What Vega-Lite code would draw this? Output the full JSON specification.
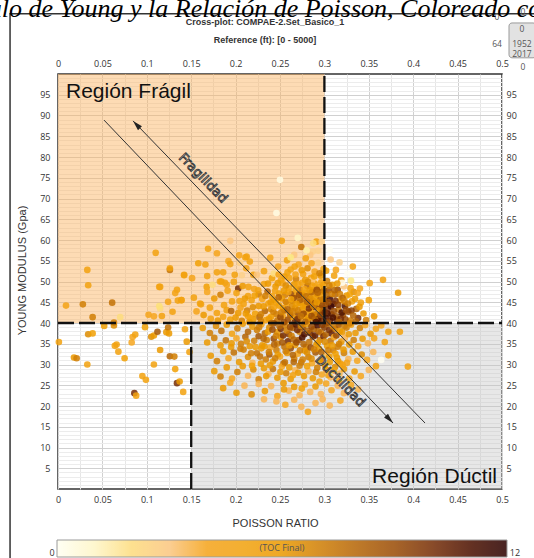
{
  "$schema": "https://vega.github.io/schema/vega-lite/v6.json",
  "width": 444,
  "height": 415,
  "autosize": {"type": "none"},
  "padding": {"left": 58, "top": 74, "right": 32, "bottom": 69},
  "background": "#ffffff",
  "title": {
    "text": "ulo de Young y la Relación de Poisson, Coloreado co",
    "subtitle": ["Cross-plot: COMPAE-2.Set_Basico_1", "Reference (ft): [0 - 5000]"],
    "anchor": "middle",
    "frame": "group",
    "dx": -15,
    "offset": -37,
    "font": "Liberation Serif",
    "fontSize": 26,
    "fontStyle": "italic",
    "fontWeight": "normal",
    "color": "#000000",
    "subtitleFont": "Liberation Sans",
    "subtitleFontSize": 9,
    "subtitleFontWeight": "bold",
    "subtitleColor": "#333333",
    "subtitlePadding": -3.5,
    "subtitleLineHeight": 18
  },
  "config": {
    "view": {"stroke": "#333333", "strokeWidth": 1.5},
    "axis": {
      "labelFont": "Open Sans",
      "labelFontSize": 9,
      "labelColor": "#333333",
      "ticks": false,
      "domain": false,
      "labelFlush": false,
      "labelOverlap": false,
      "titleFont": "Liberation Sans",
      "titleFontSize": 11,
      "titleFontWeight": "normal",
      "titleColor": "#333333",
      "gridColor": "#d0d0d0",
      "gridWidth": 1
    }
  },
  "resolve": {"axis": {"x": "independent", "y": "independent"}},
  "layer": [
    {
      "data": {"values": [{}]},
      "mark": {"type": "rect", "fill": "#fbb462", "opacity": 0.48},
      "encoding": {
        "x": {"datum": 0, "type": "quantitative", "axis": {"orient": "bottom", "values": [0.025, 0.075, 0.125, 0.175, 0.225, 0.275, 0.325, 0.375, 0.425, 0.475], "grid": true, "labels": false, "title": null, "gridColor": "#e6e6e6"}},
        "x2": {"datum": 0.3},
        "y": {"datum": 40, "type": "quantitative", "axis": {"orient": "left", "values": [1,2,3,4,6,7,8,9,11,12,13,14,16,17,18,19,21,22,23,24,26,27,28,29,31,32,33,34,36,37,38,39,41,42,43,44,46,47,48,49,51,52,53,54,56,57,58,59,61,62,63,64,66,67,68,69,71,72,73,74,76,77,78,79,81,82,83,84,86,87,88,89,91,92,93,94,96,97,98,99], "grid": true, "labels": false, "title": null, "gridColor": "#ececec"}},
        "y2": {"datum": 100}
      }
    },
    {
      "data": {"values": [{}]},
      "mark": {"type": "rect", "fill": "#c4c4c4", "opacity": 0.4},
      "encoding": {
        "x": {"datum": 0.15, "type": "quantitative", "axis": {"orient": "top", "values": [0, 0.05, 0.1, 0.15, 0.2, 0.25, 0.3, 0.35, 0.4, 0.45, 0.5], "format": ".2~f", "grid": false, "title": null, "labelPadding": 6}},
        "x2": {"datum": 0.5},
        "y": {"datum": 0, "type": "quantitative", "axis": {"orient": "right", "values": [5,10,15,20,25,30,35,40,45,50,55,60,65,70,75,80,85,90,95], "grid": false, "title": null, "labelPadding": 4}},
        "y2": {"datum": 40}
      }
    },
    {
      "data": {"values": [
        {"p":0.110,"e":56.9,"t":5},{"p":0.033,"e":52.8,"t":5},{"p":0.126,"e":52.8,"t":7.5},{"p":0.034,"e":49.1,"t":5},{"p":0.114,"e":48.7,"t":4.5},{"p":0.009,"e":44.2,"t":4.5},{"p":0.028,"e":44.5,"t":7},{"p":0.061,"e":44.9,"t":7.5},{"p":0.039,"e":41.4,"t":7},{"p":0.070,"e":41.4,"t":2},{"p":0.102,"e":42.0,"t":4},{"p":0.108,"e":41.6,"t":3.5},{"p":0.117,"e":41.7,"t":5},{"p":0.124,"e":45.1,"t":4.5},{"p":0.135,"e":45.4,"t":5},{"p":0.139,"e":45.5,"t":5},{"p":0.129,"e":42.7,"t":5},{"p":0.134,"e":48.0,"t":5},{"p":0.142,"e":51.6,"t":5},{"p":0.115,"e":43.5,"t":2},{"p":0.114,"e":44.1,"t":1.8},
        {"p":0.001,"e":35.4,"t":5},{"p":0.034,"e":37.3,"t":6.5},{"p":0.039,"e":37.5,"t":5.5},{"p":0.052,"e":39.3,"t":5.5},{"p":0.063,"e":39.4,"t":6.5},{"p":0.063,"e":40.1,"t":7},{"p":0.084,"e":36.6,"t":4},{"p":0.087,"e":37.2,"t":5},{"p":0.083,"e":35.3,"t":3.5},{"p":0.098,"e":39.0,"t":5.5},{"p":0.105,"e":36.7,"t":6.5},{"p":0.108,"e":37.0,"t":6},{"p":0.112,"e":37.9,"t":8.5},{"p":0.122,"e":37.8,"t":6},{"p":0.124,"e":38.9,"t":7.5},{"p":0.125,"e":37.5,"t":6},{"p":0.064,"e":34.5,"t":5},{"p":0.066,"e":34.8,"t":5},{"p":0.068,"e":33.1,"t":5},{"p":0.075,"e":31.5,"t":5.5},{"p":0.018,"e":31.7,"t":6},{"p":0.021,"e":31.5,"t":7},{"p":0.033,"e":30.0,"t":5},{"p":0.115,"e":33.5,"t":6},{"p":0.126,"e":32.0,"t":8},{"p":0.131,"e":31.9,"t":7},{"p":0.108,"e":30.0,"t":5},{"p":0.132,"e":28.9,"t":5.5},{"p":0.095,"e":27.2,"t":5},{"p":0.099,"e":26.3,"t":5},{"p":0.134,"e":25.5,"t":10},{"p":0.137,"e":25.9,"t":6},{"p":0.086,"e":23.1,"t":10},{"p":0.088,"e":22.5,"t":5},{"p":0.141,"e":23.4,"t":5},{"p":0.145,"e":35.5,"t":6},{"p":0.148,"e":33.0,"t":5},{"p":0.143,"e":38.5,"t":5},
        {"p":0.169,"e":57.9,"t":5},{"p":0.194,"e":59.8,"t":3},{"p":0.252,"e":59.8,"t":5},{"p":0.291,"e":59.6,"t":5},{"p":0.274,"e":58.3,"t":7.5},{"p":0.287,"e":57.2,"t":2.5},{"p":0.284,"e":56.4,"t":3},{"p":0.293,"e":57.4,"t":2.5},{"p":0.179,"e":56.8,"t":4},{"p":0.239,"e":55.7,"t":4.5},{"p":0.211,"e":55.8,"t":5},{"p":0.216,"e":54.8,"t":5},{"p":0.205,"e":54.5,"t":2.5},{"p":0.192,"e":54.9,"t":3.5},{"p":0.194,"e":54.2,"t":5},{"p":0.166,"e":54.1,"t":5},{"p":0.158,"e":54.4,"t":5.5},{"p":0.126,"e":53.2,"t":5},{"p":0.142,"e":51.5,"t":5},{"p":0.151,"e":50.8,"t":4},{"p":0.168,"e":51.3,"t":5},{"p":0.179,"e":52.2,"t":5},{"p":0.186,"e":52.2,"t":5},{"p":0.184,"e":50.0,"t":5.5},{"p":0.188,"e":49.7,"t":5},{"p":0.199,"e":51.6,"t":5},{"p":0.203,"e":48.3,"t":10},{"p":0.212,"e":53.2,"t":4.5},{"p":0.220,"e":51.6,"t":5},{"p":0.224,"e":51.6,"t":3},{"p":0.2875,"e":59.2,"t":2},{"p":0.297,"e":59.6,"t":2.5},{"p":0.204,"e":56.3,"t":4},{"p":0.2125,"e":56.0,"t":5},{"p":0.115,"e":48.7,"t":5},{"p":0.132,"e":47.2,"t":4.5},{"p":0.139,"e":45.5,"t":5},{"p":0.160,"e":44.7,"t":5},{"p":0.1675,"e":48.7,"t":5.5},{"p":0.1824,"e":50.0,"t":5},{"p":0.190,"e":49.2,"t":4.5},
        {"p":0.232,"e":52.5,"t":5},{"p":0.241,"e":50.8,"t":5.5},{"p":0.248,"e":53.6,"t":4},{"p":0.255,"e":51.2,"t":6},{"p":0.262,"e":52.9,"t":5},{"p":0.268,"e":50.6,"t":7},{"p":0.271,"e":54.1,"t":3.5},{"p":0.276,"e":51.8,"t":5},{"p":0.281,"e":53.2,"t":6.5},{"p":0.285,"e":50.9,"t":5},{"p":0.289,"e":52.4,"t":4},{"p":0.293,"e":54.5,"t":2.5},{"p":0.296,"e":51.4,"t":6},{"p":0.299,"e":53.0,"t":5},{"p":0.258,"e":55.1,"t":5},{"p":0.266,"e":56.4,"t":3},{"p":0.279,"e":55.6,"t":5},
        {"p":0.201,"e":47.2,"t":5},{"p":0.208,"e":48.9,"t":6},{"p":0.214,"e":46.5,"t":5},{"p":0.221,"e":48.2,"t":4.5},{"p":0.226,"e":46.9,"t":7},{"p":0.232,"e":49.4,"t":5},{"p":0.236,"e":47.6,"t":8},{"p":0.241,"e":46.4,"t":5},{"p":0.245,"e":48.8,"t":6},{"p":0.249,"e":47.1,"t":5.5},{"p":0.253,"e":49.6,"t":4},{"p":0.256,"e":46.8,"t":7},{"p":0.260,"e":48.4,"t":5},{"p":0.263,"e":47.0,"t":9},{"p":0.266,"e":49.3,"t":6},{"p":0.269,"e":46.6,"t":5},{"p":0.272,"e":48.1,"t":7.5},{"p":0.275,"e":49.7,"t":5},{"p":0.278,"e":47.3,"t":6},{"p":0.281,"e":48.9,"t":8},{"p":0.284,"e":46.5,"t":5},{"p":0.287,"e":47.9,"t":6.5},{"p":0.289,"e":49.5,"t":5},{"p":0.292,"e":46.9,"t":7},{"p":0.294,"e":48.6,"t":5.5},{"p":0.297,"e":47.4,"t":9},{"p":0.299,"e":49.2,"t":6},{"p":0.251,"e":50.3,"t":5},{"p":0.286,"e":50.2,"t":3},
        {"p":0.190,"e":43.1,"t":5},{"p":0.196,"e":45.2,"t":5},{"p":0.203,"e":42.4,"t":6},{"p":0.209,"e":44.6,"t":5},{"p":0.213,"e":43.0,"t":7},{"p":0.218,"e":45.5,"t":5},{"p":0.222,"e":42.2,"t":5.5},{"p":0.226,"e":44.1,"t":6},{"p":0.230,"e":45.8,"t":4.5},{"p":0.233,"e":42.9,"t":8},{"p":0.237,"e":44.7,"t":5},{"p":0.240,"e":43.3,"t":6.5},{"p":0.243,"e":45.6,"t":5},{"p":0.246,"e":42.1,"t":7},{"p":0.249,"e":44.2,"t":5.5},{"p":0.252,"e":45.9,"t":6},{"p":0.255,"e":43.0,"t":8.5},{"p":0.258,"e":44.8,"t":5},{"p":0.261,"e":42.5,"t":6},{"p":0.264,"e":45.3,"t":7},{"p":0.267,"e":43.6,"t":5},{"p":0.270,"e":42.0,"t":9},{"p":0.272,"e":44.9,"t":6},{"p":0.275,"e":43.2,"t":5},{"p":0.277,"e":45.7,"t":7.5},{"p":0.280,"e":42.6,"t":6},{"p":0.283,"e":44.4,"t":8},{"p":0.285,"e":42.9,"t":5.5},{"p":0.287,"e":45.4,"t":6.5},{"p":0.290,"e":43.8,"t":9.5},{"p":0.292,"e":42.3,"t":7},{"p":0.294,"e":44.9,"t":5},{"p":0.296,"e":43.5,"t":10},{"p":0.298,"e":41.9,"t":8},{"p":0.300,"e":45.6,"t":6},
        {"p":0.172,"e":41.0,"t":5},{"p":0.180,"e":40.6,"t":6},{"p":0.186,"e":41.5,"t":5},{"p":0.194,"e":40.8,"t":5.5},{"p":0.200,"e":41.3,"t":6},{"p":0.207,"e":40.5,"t":7},{"p":0.214,"e":41.6,"t":5},{"p":0.220,"e":40.9,"t":6},{"p":0.227,"e":41.4,"t":8},{"p":0.234,"e":40.7,"t":5},{"p":0.240,"e":41.5,"t":6},{"p":0.247,"e":40.6,"t":7.5},{"p":0.253,"e":41.7,"t":5},{"p":0.259,"e":40.8,"t":9},{"p":0.265,"e":41.3,"t":6},{"p":0.271,"e":40.6,"t":7},{"p":0.277,"e":41.5,"t":5.5},{"p":0.282,"e":40.7,"t":8},{"p":0.288,"e":41.3,"t":6},{"p":0.293,"e":40.5,"t":10},{"p":0.297,"e":41.6,"t":7},
        {"p":0.153,"e":46.1,"t":5},{"p":0.156,"e":42.8,"t":4},{"p":0.161,"e":44.5,"t":5},{"p":0.164,"e":41.9,"t":6},{"p":0.168,"e":47.5,"t":3.5},{"p":0.171,"e":43.7,"t":5},{"p":0.176,"e":45.9,"t":6},{"p":0.179,"e":42.4,"t":5},{"p":0.183,"e":46.8,"t":7},{"p":0.187,"e":44.3,"t":5},{"p":0.191,"e":47.8,"t":4.5},{"p":0.195,"e":42.9,"t":8},{"p":0.198,"e":49.9,"t":5},
        {"p":0.174,"e":49.2,"t":2},{"p":0.207,"e":51.5,"t":2.5},{"p":0.243,"e":51.9,"t":2},{"p":0.262,"e":55.8,"t":1.5},{"p":0.280,"e":57.5,"t":1.2},{"p":0.270,"e":60.5,"t":1},{"p":0.246,"e":66.5,"t":0.8},{"p":0.250,"e":74.5,"t":0.8},
        {"p":0.2375,"e":41.0,"t":6},{"p":0.2425,"e":42.7,"t":7},{"p":0.2455,"e":44.9,"t":5.5},{"p":0.2485,"e":46.2,"t":8},{"p":0.2505,"e":41.4,"t":9},{"p":0.2535,"e":43.6,"t":6},{"p":0.2565,"e":45.1,"t":7},{"p":0.2595,"e":47.5,"t":5},{"p":0.2615,"e":41.9,"t":8},{"p":0.2635,"e":44.0,"t":6.5},{"p":0.2655,"e":46.0,"t":9},{"p":0.2675,"e":48.0,"t":5.5},{"p":0.2695,"e":40.9,"t":10},{"p":0.2705,"e":43.1,"t":7},{"p":0.2725,"e":45.5,"t":8},{"p":0.2745,"e":47.0,"t":6},{"p":0.2765,"e":42.2,"t":9},{"p":0.2785,"e":44.3,"t":5},{"p":0.2795,"e":46.4,"t":7.5},{"p":0.2815,"e":41.2,"t":6},{"p":0.2825,"e":43.5,"t":10},{"p":0.2845,"e":45.8,"t":6.5},{"p":0.2855,"e":47.4,"t":8},{"p":0.2865,"e":49.0,"t":5},{"p":0.2885,"e":42.0,"t":7},{"p":0.2895,"e":44.8,"t":8.5},{"p":0.2905,"e":46.2,"t":6},{"p":0.2915,"e":48.0,"t":9},{"p":0.2935,"e":41.0,"t":11},{"p":0.2945,"e":43.2,"t":6},{"p":0.2955,"e":45.6,"t":7.5},{"p":0.2965,"e":46.9,"t":5},{"p":0.2975,"e":44.2,"t":9},{"p":0.2985,"e":42.8,"t":8},{"p":0.2995,"e":40.5,"t":10},{"p":0.2995,"e":47.8,"t":7},{"p":0.2885,"e":51.2,"t":5.5},{"p":0.2785,"e":50.4,"t":6},{"p":0.2675,"e":51.7,"t":4.5},{"p":0.2565,"e":49.0,"t":6.5},{"p":0.2445,"e":47.7,"t":5},{"p":0.2315,"e":44.0,"t":6},{"p":0.2285,"e":42.1,"t":7},{"p":0.2255,"e":47.9,"t":5},{"p":0.2195,"e":43.8,"t":6.5},{"p":0.2165,"e":41.2,"t":5},{"p":0.2105,"e":45.9,"t":6},{"p":0.2055,"e":43.7,"t":4.5},{"p":0.2665,"e":53.6,"t":5},{"p":0.2745,"e":52.7,"t":6},{"p":0.2945,"e":52.0,"t":7},{"p":0.2855,"e":54.4,"t":4},{"p":0.2605,"e":50.8,"t":5},{"p":0.2475,"e":49.6,"t":6},
        {"p":0.2395,"e":45.0,"t":6},{"p":0.2435,"e":43.9,"t":5},{"p":0.2515,"e":42.6,"t":7},{"p":0.2545,"e":47.8,"t":6},{"p":0.2585,"e":43.3,"t":8},{"p":0.2625,"e":45.7,"t":5.5},{"p":0.2645,"e":42.8,"t":7},{"p":0.2685,"e":44.6,"t":6},{"p":0.2715,"e":46.8,"t":9},{"p":0.2735,"e":41.6,"t":7.5},{"p":0.2755,"e":44.0,"t":6},{"p":0.2775,"e":48.2,"t":5},{"p":0.2805,"e":45.1,"t":8},{"p":0.2835,"e":47.9,"t":6},{"p":0.2855,"e":41.7,"t":9},{"p":0.2875,"e":44.1,"t":7},{"p":0.2895,"e":40.9,"t":8},{"p":0.2915,"e":45.0,"t":6},{"p":0.2925,"e":47.3,"t":8},{"p":0.2955,"e":42.0,"t":9},{"p":0.2985,"e":45.7,"t":7},{"p":0.2965,"e":49.8,"t":5},{"p":0.2815,"e":49.9,"t":6.5},{"p":0.2705,"e":49.3,"t":5},{"p":0.2585,"e":52.2,"t":5.5},{"p":0.2485,"e":51.7,"t":4.5},{"p":0.2365,"e":49.5,"t":6},{"p":0.2335,"e":46.5,"t":7},{"p":0.2215,"e":46.6,"t":5.5},{"p":0.2145,"e":48.7,"t":5},{"p":0.2115,"e":42.3,"t":6},{"p":0.2045,"e":45.3,"t":5},
        {"p":0.302,"e":41.2,"t":11},{"p":0.304,"e":43.5,"t":10},{"p":0.306,"e":45.8,"t":11.5},{"p":0.305,"e":47.9,"t":9},{"p":0.303,"e":50.1,"t":7},{"p":0.308,"e":42.1,"t":9.5},{"p":0.310,"e":44.6,"t":10.5},{"p":0.312,"e":46.8,"t":8},{"p":0.309,"e":49.2,"t":6},{"p":0.311,"e":51.4,"t":5},{"p":0.314,"e":40.8,"t":10},{"p":0.316,"e":43.2,"t":7.5},{"p":0.318,"e":45.5,"t":5},{"p":0.315,"e":48.0,"t":9},{"p":0.319,"e":50.3,"t":4},{"p":0.321,"e":41.9,"t":8.5},{"p":0.323,"e":44.1,"t":11},{"p":0.325,"e":46.6,"t":6},{"p":0.322,"e":48.8,"t":3},{"p":0.327,"e":42.7,"t":9},{"p":0.329,"e":40.6,"t":7},{"p":0.331,"e":45.2,"t":5},{"p":0.333,"e":47.5,"t":6.5},{"p":0.336,"e":43.4,"t":8},{"p":0.338,"e":41.2,"t":10},{"p":0.341,"e":44.9,"t":5},{"p":0.344,"e":42.3,"t":6},{"p":0.347,"e":40.7,"t":7},{"p":0.313,"e":52.8,"t":4},{"p":0.317,"e":54.6,"t":2.5},{"p":0.307,"e":55.3,"t":3},{"p":0.326,"e":51.9,"t":0.3},{"p":0.320,"e":49.7,"t":0.3},{"p":0.330,"e":50.2,"t":1.5},{"p":0.306,"e":57.6,"t":0.5},{"p":0.332,"e":53.6,"t":5},{"p":0.351,"e":49.6,"t":5},{"p":0.366,"e":50.4,"t":5},{"p":0.383,"e":47.3,"t":6},{"p":0.350,"e":45.5,"t":5.5},{"p":0.356,"e":41.6,"t":6},{"p":0.340,"e":48.3,"t":3.5},{"p":0.302,"e":52.6,"t":6},
        {"p":0.3015,"e":44.5,"t":9},{"p":0.3025,"e":46.8,"t":8},{"p":0.3035,"e":42.3,"t":11},{"p":0.3065,"e":40.6,"t":10},{"p":0.3075,"e":44.0,"t":11.5},{"p":0.3085,"e":47.0,"t":7},{"p":0.3105,"e":42.9,"t":9},{"p":0.3125,"e":45.3,"t":10},{"p":0.3135,"e":41.6,"t":8.5},{"p":0.3145,"e":49.5,"t":6},{"p":0.3175,"e":47.0,"t":7},{"p":0.3195,"e":42.5,"t":11},{"p":0.3205,"e":46.0,"t":8},{"p":0.3235,"e":40.9,"t":9},{"p":0.3265,"e":44.7,"t":7},{"p":0.3285,"e":46.9,"t":5.5},{"p":0.3305,"e":43.0,"t":9.5},{"p":0.3345,"e":45.8,"t":6},{"p":0.3375,"e":47.2,"t":4},{"p":0.3355,"e":40.4,"t":8},
        {"p":0.3005,"e":42.6,"t":10},{"p":0.3045,"e":45.0,"t":9},{"p":0.3055,"e":49.0,"t":7},{"p":0.3095,"e":41.3,"t":11},{"p":0.3115,"e":47.9,"t":8},{"p":0.3155,"e":44.4,"t":9.5},{"p":0.3185,"e":41.0,"t":10},{"p":0.3225,"e":45.2,"t":7},{"p":0.3245,"e":43.1,"t":9},{"p":0.3295,"e":48.4,"t":5},{"p":0.3325,"e":41.8,"t":8},{"p":0.3395,"e":43.9,"t":6},
        {"p":0.163,"e":38.8,"t":6},{"p":0.171,"e":37.6,"t":7},{"p":0.178,"e":39.3,"t":6.5},{"p":0.184,"e":38.1,"t":7.5},{"p":0.190,"e":39.6,"t":6},{"p":0.196,"e":37.4,"t":5},{"p":0.202,"e":38.7,"t":7},{"p":0.208,"e":39.8,"t":6},{"p":0.214,"e":37.9,"t":8},{"p":0.219,"e":39.1,"t":6},{"p":0.224,"e":38.3,"t":7},{"p":0.229,"e":39.7,"t":5},{"p":0.233,"e":37.5,"t":8},{"p":0.238,"e":38.9,"t":6.5},{"p":0.243,"e":39.9,"t":9},{"p":0.247,"e":37.8,"t":6},{"p":0.251,"e":38.6,"t":10},{"p":0.256,"e":39.5,"t":7},{"p":0.260,"e":37.3,"t":9.5},{"p":0.264,"e":38.8,"t":8},{"p":0.268,"e":39.6,"t":11},{"p":0.272,"e":37.9,"t":7},{"p":0.276,"e":38.9,"t":9},{"p":0.280,"e":39.7,"t":6},{"p":0.284,"e":37.6,"t":10.5},{"p":0.288,"e":38.5,"t":8},{"p":0.292,"e":39.4,"t":11},{"p":0.296,"e":37.7,"t":7},{"p":0.300,"e":38.9,"t":9.5},{"p":0.304,"e":39.8,"t":8},{"p":0.308,"e":37.5,"t":10.5},{"p":0.312,"e":38.6,"t":7},{"p":0.316,"e":39.5,"t":8.5},{"p":0.320,"e":37.8,"t":6},{"p":0.325,"e":38.9,"t":7},{"p":0.330,"e":39.6,"t":5},{"p":0.335,"e":37.6,"t":6},{"p":0.340,"e":38.8,"t":7},{"p":0.346,"e":39.5,"t":3.5},{"p":0.352,"e":37.4,"t":6},{"p":0.358,"e":38.6,"t":4.5},{"p":0.364,"e":39.4,"t":3.5},{"p":0.372,"e":37.9,"t":5},{"p":0.385,"e":37.9,"t":5},
        {"p":0.2405,"e":40.0,"t":8},{"p":0.2545,"e":40.2,"t":9},{"p":0.2665,"e":40.1,"t":10},{"p":0.2785,"e":40.3,"t":8},{"p":0.2905,"e":40.2,"t":11},{"p":0.3035,"e":40.1,"t":9},{"p":0.3165,"e":40.2,"t":8},{"p":0.2285,"e":40.4,"t":7},{"p":0.2155,"e":40.2,"t":6},{"p":0.3285,"e":39.9,"t":7},
        {"p":0.168,"e":35.3,"t":6},{"p":0.176,"e":36.4,"t":7},{"p":0.183,"e":34.6,"t":6},{"p":0.189,"e":35.8,"t":7.5},{"p":0.195,"e":34.2,"t":6},{"p":0.201,"e":36.3,"t":3.5},{"p":0.206,"e":35.0,"t":7},{"p":0.211,"e":36.7,"t":8},{"p":0.216,"e":34.4,"t":6},{"p":0.221,"e":35.7,"t":7},{"p":0.226,"e":36.8,"t":8.5},{"p":0.230,"e":34.6,"t":6},{"p":0.235,"e":35.9,"t":7},{"p":0.239,"e":34.1,"t":3.5},{"p":0.243,"e":36.2,"t":9},{"p":0.247,"e":35.0,"t":7},{"p":0.251,"e":36.6,"t":6},{"p":0.255,"e":34.3,"t":7.5},{"p":0.259,"e":35.6,"t":10},{"p":0.263,"e":36.9,"t":7},{"p":0.267,"e":34.7,"t":6},{"p":0.271,"e":35.9,"t":8.5},{"p":0.275,"e":36.5,"t":11},{"p":0.279,"e":34.2,"t":7},{"p":0.283,"e":35.4,"t":7.5},{"p":0.287,"e":36.7,"t":9},{"p":0.291,"e":34.8,"t":6},{"p":0.295,"e":35.9,"t":7},{"p":0.299,"e":36.8,"t":10},{"p":0.303,"e":34.5,"t":6},{"p":0.307,"e":35.7,"t":7.5},{"p":0.311,"e":36.6,"t":3.5},{"p":0.315,"e":34.3,"t":7},{"p":0.319,"e":35.5,"t":6},{"p":0.323,"e":36.4,"t":3.3},{"p":0.328,"e":34.8,"t":6},{"p":0.333,"e":35.9,"t":7},{"p":0.338,"e":34.4,"t":3.5},{"p":0.343,"e":36.2,"t":6},{"p":0.349,"e":35.1,"t":3.3},{"p":0.356,"e":36.3,"t":4.5},{"p":0.368,"e":35.4,"t":5},
        {"p":0.172,"e":32.1,"t":6},{"p":0.179,"e":30.8,"t":7},{"p":0.186,"e":33.2,"t":6},{"p":0.192,"e":31.5,"t":3.5},{"p":0.198,"e":32.9,"t":7.5},{"p":0.204,"e":30.6,"t":6},{"p":0.209,"e":33.6,"t":7},{"p":0.214,"e":31.8,"t":6.5},{"p":0.219,"e":30.4,"t":3.3},{"p":0.224,"e":32.7,"t":7.5},{"p":0.229,"e":33.9,"t":6},{"p":0.234,"e":31.2,"t":7},{"p":0.238,"e":32.4,"t":8.5},{"p":0.242,"e":30.7,"t":6},{"p":0.246,"e":33.5,"t":7},{"p":0.250,"e":31.9,"t":3.5},{"p":0.254,"e":30.2,"t":7.5},{"p":0.258,"e":32.8,"t":6},{"p":0.262,"e":33.9,"t":9},{"p":0.266,"e":31.4,"t":7},{"p":0.270,"e":32.6,"t":3.5},{"p":0.274,"e":30.5,"t":7.5},{"p":0.278,"e":33.3,"t":6},{"p":0.282,"e":31.8,"t":7},{"p":0.286,"e":30.3,"t":3.5},{"p":0.290,"e":32.9,"t":8.5},{"p":0.294,"e":33.8,"t":6},{"p":0.298,"e":31.2,"t":7},{"p":0.302,"e":32.5,"t":3.3},{"p":0.306,"e":30.6,"t":6},{"p":0.310,"e":33.4,"t":7},{"p":0.314,"e":31.7,"t":6},{"p":0.318,"e":30.2,"t":3.5},{"p":0.322,"e":32.8,"t":7},{"p":0.327,"e":31.3,"t":3.3},{"p":0.332,"e":33.1,"t":6},{"p":0.337,"e":30.9,"t":3.5},{"p":0.342,"e":32.4,"t":6.5},{"p":0.348,"e":31.1,"t":3.5},{"p":0.355,"e":33.0,"t":3.3},{"p":0.364,"e":31.1,"t":0.3},{"p":0.372,"e":32.2,"t":5},{"p":0.394,"e":29.5,"t":5},
        {"p":0.176,"e":28.4,"t":6},{"p":0.183,"e":27.1,"t":7},{"p":0.190,"e":29.3,"t":6},{"p":0.196,"e":26.6,"t":3.5},{"p":0.202,"e":28.2,"t":7},{"p":0.208,"e":29.6,"t":6},{"p":0.214,"e":27.3,"t":3.3},{"p":0.220,"e":28.8,"t":6.5},{"p":0.226,"e":26.4,"t":7},{"p":0.232,"e":29.1,"t":6},{"p":0.237,"e":27.7,"t":3.3},{"p":0.242,"e":28.9,"t":7.5},{"p":0.247,"e":26.8,"t":6},{"p":0.252,"e":29.5,"t":3.5},{"p":0.257,"e":27.9,"t":7},{"p":0.262,"e":26.5,"t":6},{"p":0.267,"e":28.6,"t":3.3},{"p":0.272,"e":29.7,"t":7},{"p":0.277,"e":27.2,"t":6},{"p":0.282,"e":28.4,"t":3.3},{"p":0.287,"e":26.7,"t":6},{"p":0.292,"e":29.2,"t":7},{"p":0.297,"e":27.6,"t":3.5},{"p":0.302,"e":28.8,"t":6},{"p":0.307,"e":26.9,"t":3.3},{"p":0.312,"e":29.4,"t":6.5},{"p":0.317,"e":27.8,"t":3.3},{"p":0.322,"e":28.9,"t":6},{"p":0.328,"e":26.6,"t":3.5},{"p":0.334,"e":28.3,"t":6},{"p":0.341,"e":27.2,"t":3.5},{"p":0.350,"e":28.7,"t":3.3},{"p":0.358,"e":29.6,"t":5},
        {"p":0.186,"e":24.3,"t":6},{"p":0.194,"e":25.6,"t":3.5},{"p":0.201,"e":23.2,"t":6},{"p":0.210,"e":24.9,"t":3.3},{"p":0.218,"e":22.8,"t":6.5},{"p":0.226,"e":25.3,"t":3.3},{"p":0.233,"e":23.6,"t":6},{"p":0.240,"e":24.8,"t":3.3},{"p":0.247,"e":22.4,"t":3.5},{"p":0.254,"e":25.5,"t":6},{"p":0.260,"e":23.7,"t":3.3},{"p":0.266,"e":24.6,"t":6},{"p":0.272,"e":22.6,"t":3.3},{"p":0.278,"e":25.2,"t":3.5},{"p":0.284,"e":23.4,"t":3.3},{"p":0.290,"e":24.7,"t":6},{"p":0.296,"e":22.9,"t":3.3},{"p":0.302,"e":25.4,"t":3.5},{"p":0.308,"e":23.8,"t":3.5},{"p":0.315,"e":24.9,"t":3.3},{"p":0.322,"e":23.1,"t":3.3},{"p":0.330,"e":25.1,"t":3.5},{"p":0.338,"e":24.0,"t":3.3},
        {"p":0.246,"e":21.1,"t":3.3},{"p":0.256,"e":20.3,"t":3.5},{"p":0.266,"e":21.5,"t":3.3},{"p":0.274,"e":19.8,"t":3.3},{"p":0.2815,"e":18.6,"t":4.5},{"p":0.290,"e":20.7,"t":3.3},{"p":0.298,"e":21.6,"t":3.3},{"p":0.306,"e":20.1,"t":3.3},{"p":0.318,"e":21.3,"t":3.5},{"p":0.232,"e":21.6,"t":3.3},
        {"p":0.2265,"e":39.0,"t":7},{"p":0.2315,"e":36.2,"t":8},{"p":0.2365,"e":37.9,"t":6},{"p":0.2415,"e":38.4,"t":9},{"p":0.2455,"e":36.9,"t":7},{"p":0.2495,"e":39.2,"t":8},{"p":0.2535,"e":37.0,"t":10},{"p":0.2575,"e":38.2,"t":7},{"p":0.2615,"e":39.0,"t":9},{"p":0.2655,"e":36.0,"t":8},{"p":0.2695,"e":38.3,"t":10},{"p":0.2735,"e":39.3,"t":7},{"p":0.2775,"e":37.3,"t":11},{"p":0.2815,"e":38.1,"t":8},{"p":0.2855,"e":39.1,"t":9},{"p":0.2895,"e":37.0,"t":10.5},{"p":0.2935,"e":38.0,"t":8},{"p":0.2975,"e":39.5,"t":9.5},{"p":0.3015,"e":37.2,"t":8},{"p":0.3055,"e":38.3,"t":10},{"p":0.3095,"e":39.2,"t":7},{"p":0.3135,"e":37.0,"t":9},{"p":0.3175,"e":38.1,"t":6},{"p":0.3225,"e":39.3,"t":7},{"p":0.3275,"e":37.3,"t":6},
        {"p":0.2375,"e":33.0,"t":7},{"p":0.2435,"e":34.8,"t":8},{"p":0.2475,"e":32.4,"t":6},{"p":0.2525,"e":35.3,"t":8.5},{"p":0.2565,"e":33.2,"t":7},{"p":0.2605,"e":34.6,"t":6},{"p":0.2645,"e":32.3,"t":8},{"p":0.2685,"e":35.3,"t":9},{"p":0.2725,"e":33.4,"t":7},{"p":0.2765,"e":34.9,"t":8},{"p":0.2805,"e":32.9,"t":6.5},{"p":0.2845,"e":34.1,"t":9},{"p":0.2885,"e":33.6,"t":7},{"p":0.2925,"e":35.2,"t":6},{"p":0.2965,"e":33.0,"t":8},{"p":0.3005,"e":35.5,"t":6.5},{"p":0.3045,"e":33.5,"t":7},{"p":0.3085,"e":34.6,"t":6},{"p":0.3125,"e":32.6,"t":5.5},{"p":0.3165,"e":34.9,"t":7},{"p":0.3215,"e":33.6,"t":6},{"p":0.2125,"e":35.6,"t":6.5},{"p":0.2175,"e":32.7,"t":7},{"p":0.2225,"e":34.2,"t":6},{"p":0.2275,"e":31.9,"t":7.5},{"p":0.2325,"e":34.4,"t":6},{"p":0.2055,"e":33.8,"t":7},{"p":0.1955,"e":35.1,"t":6},
        {"p":0.2385,"e":29.8,"t":6},{"p":0.2445,"e":31.5,"t":7},{"p":0.2505,"e":28.2,"t":6},{"p":0.2555,"e":30.5,"t":7.5},{"p":0.2605,"e":29.3,"t":6},{"p":0.2655,"e":30.6,"t":8},{"p":0.2705,"e":28.0,"t":6},{"p":0.2755,"e":31.2,"t":7},{"p":0.2805,"e":29.6,"t":5.5},{"p":0.2855,"e":31.4,"t":6.5},{"p":0.2905,"e":28.2,"t":7},{"p":0.2955,"e":30.4,"t":6},{"p":0.3005,"e":29.8,"t":5.5},{"p":0.3055,"e":31.9,"t":6},{"p":0.3105,"e":28.6,"t":5},{"p":0.3155,"e":30.8,"t":6},{"p":0.3205,"e":29.9,"t":5},{"p":0.3255,"e":30.4,"t":4.5},{"p":0.2285,"e":30.2,"t":6},{"p":0.2185,"e":29.7,"t":5.5},{"p":0.2345,"e":27.2,"t":6},{"p":0.2645,"e":27.4,"t":5},{"p":0.2945,"e":25.9,"t":5},{"p":0.2745,"e":24.2,"t":5.5},{"p":0.2545,"e":24.0,"t":6},{"p":0.3045,"e":27.4,"t":5},{"p":0.3165,"e":26.1,"t":4.5}
      ]},
      "mark": {"type": "circle", "size": 44, "opacity": 0.86},
      "encoding": {
        "x": {"field": "p", "type": "quantitative", "scale": {"domain": [0, 0.5], "nice": false, "zero": false}, "axis": {"orient": "bottom", "values": [0, 0.05, 0.1, 0.15, 0.2, 0.25, 0.3, 0.35, 0.4, 0.45, 0.5], "format": ".2~f", "grid": true, "title": "POISSON RATIO", "labelPadding": 6, "titlePadding": 13, "titleX": 217}},
        "y": {"field": "e", "type": "quantitative", "scale": {"domain": [0, 100], "nice": false, "zero": false}, "axis": {"orient": "left", "values": [5,10,15,20,25,30,35,40,45,50,55,60,65,70,75,80,85,90,95], "grid": true, "title": "YOUNG MODULUS (Gpa)", "labelPadding": 8, "titlePadding": 12, "titleY": 196}},
        "color": {
          "field": "t", "type": "quantitative",
          "scale": {"domain": [0, 0.7, 1.6, 2.6, 3.2, 3.4, 5.8, 7.5, 9.5, 11, 12], "range": ["#ffffff", "#fffdf0", "#fbe673", "#fbcf8c", "#fbc27a", "#f6a621", "#f0a000", "#c27206", "#8c4004", "#4d1100", "#2b0000"]},
          "legend": {
            "orient": "none", "legendX": -1, "legendY": 470, "direction": "horizontal",
            "gradientLength": 450, "gradientThickness": 17, "gradientStrokeColor": "#8a8a8a", "gradientStrokeWidth": 1,
            "title": "(TOC Final)", "titleFont": "Open Sans", "titleFontSize": 9, "titleFontWeight": "normal", "titleColor": "#555555", "titleAnchor": "middle", "titleOrient": "top", "titlePadding": -13,
            "values": [-0.2, 12.35], "labelFont": "Open Sans", "labelFontSize": 9, "labelColor": "#333333", "labelOverlap": false, "padding": 0,
            "labelBaseline": "middle",
            "labelOffset": -8.5,
            "labelExpr": "datum.value < 6 ? '0' : '12'"
          }
        }
      }
    },
    {
      "data": {"values": [{}]},
      "mark": {"type": "rule", "color": "#111111", "strokeWidth": 2.3, "strokeDash": [16, 5]},
      "encoding": {"x": {"datum": 0, "type": "quantitative", "axis": null}, "x2": {"datum": 0.5}, "y": {"datum": 40, "type": "quantitative", "axis": null}}
    },
    {
      "data": {"values": [{}]},
      "mark": {"type": "rule", "color": "#111111", "strokeWidth": 2.3, "strokeDash": [16, 5]},
      "encoding": {"x": {"datum": 0.3, "type": "quantitative", "axis": null}, "y": {"datum": 40, "type": "quantitative", "axis": null}, "y2": {"datum": 100}}
    },
    {
      "data": {"values": [{}]},
      "mark": {"type": "rule", "color": "#111111", "strokeWidth": 2.3, "strokeDash": [16, 5]},
      "encoding": {"x": {"datum": 0.15, "type": "quantitative", "axis": null}, "y": {"datum": 0, "type": "quantitative", "axis": null}, "y2": {"datum": 40}}
    },
    {
      "data": {"values": [{}]},
      "mark": {"type": "rule", "color": "#333333", "strokeWidth": 1},
      "encoding": {"x": {"datum": 0.0518, "type": "quantitative", "axis": null}, "y": {"datum": 88.9, "type": "quantitative", "axis": null}, "x2": {"datum": 0.3773}, "y2": {"datum": 15.9}}
    },
    {
      "data": {"values": [{}]},
      "mark": {"type": "rule", "color": "#333333", "strokeWidth": 1},
      "encoding": {"x": {"datum": 0.0845, "type": "quantitative", "axis": null}, "y": {"datum": 88.7, "type": "quantitative", "axis": null}, "x2": {"datum": 0.4133}, "y2": {"datum": 15.9}}
    },
    {
      "data": {"values": [{}]},
      "mark": {"type": "point", "shape": "M0,-1L0.55,1L-0.55,1Z", "angle": 136, "size": 100, "filled": true, "color": "#222222", "opacity": 1},
      "encoding": {"x": {"datum": 0.3733, "type": "quantitative", "axis": null}, "y": {"datum": 16.8, "type": "quantitative", "axis": null}}
    },
    {
      "data": {"values": [{}]},
      "mark": {"type": "point", "shape": "M0,-1L0.55,1L-0.55,1Z", "angle": 316, "size": 100, "filled": true, "color": "#222222", "opacity": 1},
      "encoding": {"x": {"datum": 0.0884, "type": "quantitative", "axis": null}, "y": {"datum": 87.8, "type": "quantitative", "axis": null}}
    },
    {
      "data": {"values": [{}]},
      "mark": {"type": "text", "text": "Fragilidad", "angle": 46, "font": "DejaVu Sans", "fontSize": 13, "fill": "#ffffff", "stroke": "#3a3a3a", "strokeWidth": 0.9, "align": "center", "baseline": "middle"},
      "encoding": {"x": {"datum": 0.1633, "type": "quantitative", "axis": null}, "y": {"datum": 74.9, "type": "quantitative", "axis": null}}
    },
    {
      "data": {"values": [{}]},
      "mark": {"type": "text", "text": "Ductilidad", "angle": 46, "font": "DejaVu Sans", "fontSize": 13, "fill": "#ffffff", "stroke": "#3a3a3a", "strokeWidth": 0.9, "align": "center", "baseline": "middle"},
      "encoding": {"x": {"datum": 0.3176, "type": "quantitative", "axis": null}, "y": {"datum": 26.0, "type": "quantitative", "axis": null}}
    },
    {
      "data": {"values": [{}]},
      "mark": {"type": "text", "text": "Región Frágil", "font": "Liberation Sans", "fontSize": 21, "color": "#111111", "align": "left", "baseline": "alphabetic"},
      "encoding": {"x": {"datum": 0.009, "type": "quantitative", "axis": null}, "y": {"datum": 94.3, "type": "quantitative", "axis": null}}
    },
    {
      "data": {"values": [{}]},
      "mark": {"type": "text", "text": "Región Dúctil", "font": "Liberation Sans", "fontSize": 21, "color": "#111111", "align": "right", "baseline": "alphabetic"},
      "encoding": {"x": {"datum": 0.4944, "type": "quantitative", "axis": null}, "y": {"datum": 1.5, "type": "quantitative", "axis": null}}
    },
    {
      "data": {"values": [{}]},
      "mark": {"type": "rect", "filled": false, "stroke": "#333333", "strokeWidth": 1.5},
      "encoding": {"x": {"datum": -0.054, "type": "quantitative", "axis": null}, "x2": {"datum": 0.54}, "y": {"datum": -17.5, "type": "quantitative", "axis": null}, "y2": {"datum": 114.5}}
    },
    {
      "data": {"values": [{}]},
      "mark": {"type": "rect", "fill": "#e2e2e2", "stroke": "#9a9a9a", "strokeWidth": 1, "cornerRadius": 3},
      "encoding": {"x": {"datum": 0.5079, "type": "quantitative", "axis": null}, "x2": {"datum": 0.5383}, "y": {"datum": 103.9, "type": "quantitative", "axis": null}, "y2": {"datum": 112.3}}
    },
    {
      "data": {"values": [{}]},
      "mark": {"type": "text", "text": "1952", "font": "Open Sans", "fontSize": 8.5, "color": "#555555", "align": "center", "baseline": "middle"},
      "encoding": {"x": {"datum": 0.5225, "type": "quantitative", "axis": null}, "y": {"datum": 107.2, "type": "quantitative", "axis": null}}
    },
    {
      "data": {"values": [{}]},
      "mark": {"type": "text", "text": "2017", "font": "Open Sans", "fontSize": 8.5, "color": "#555555", "align": "center", "baseline": "middle"},
      "encoding": {"x": {"datum": 0.5225, "type": "quantitative", "axis": null}, "y": {"datum": 104.8, "type": "quantitative", "axis": null}}
    },
    {
      "data": {"values": [{}]},
      "mark": {"type": "text", "text": "0", "font": "Open Sans", "fontSize": 8.5, "color": "#555555", "align": "center", "baseline": "middle"},
      "encoding": {"x": {"datum": 0.5225, "type": "quantitative", "axis": null}, "y": {"datum": 110.8, "type": "quantitative", "axis": null}}
    },
    {
      "data": {"values": [{}]},
      "mark": {"type": "text", "text": "64", "font": "Open Sans", "fontSize": 8.5, "color": "#555555", "align": "center", "baseline": "middle"},
      "encoding": {"x": {"datum": 0.4944, "type": "quantitative", "axis": null}, "y": {"datum": 107.2, "type": "quantitative", "axis": null}}
    },
    {
      "data": {"values": [{}]},
      "mark": {"type": "text", "text": "0", "font": "Open Sans", "fontSize": 8.5, "color": "#555555", "align": "center", "baseline": "middle"},
      "encoding": {"x": {"datum": 0.4944, "type": "quantitative", "axis": null}, "y": {"datum": 113.7, "type": "quantitative", "axis": null}}
    },
    {
      "data": {"values": [{}]},
      "mark": {"type": "text", "text": "0", "font": "Open Sans", "fontSize": 8.5, "color": "#555555", "align": "center", "baseline": "middle"},
      "encoding": {"x": {"datum": 0.5236, "type": "quantitative", "axis": null}, "y": {"datum": 114.9, "type": "quantitative", "axis": null}}
    },
    {
      "data": {"values": [{}]},
      "mark": {"type": "text", "text": "0", "font": "Open Sans", "fontSize": 8.5, "color": "#555555", "align": "center", "baseline": "middle"},
      "encoding": {"x": {"datum": 0.5236, "type": "quantitative", "axis": null}, "y": {"datum": 101.7, "type": "quantitative", "axis": null}}
    }
  ]
}
